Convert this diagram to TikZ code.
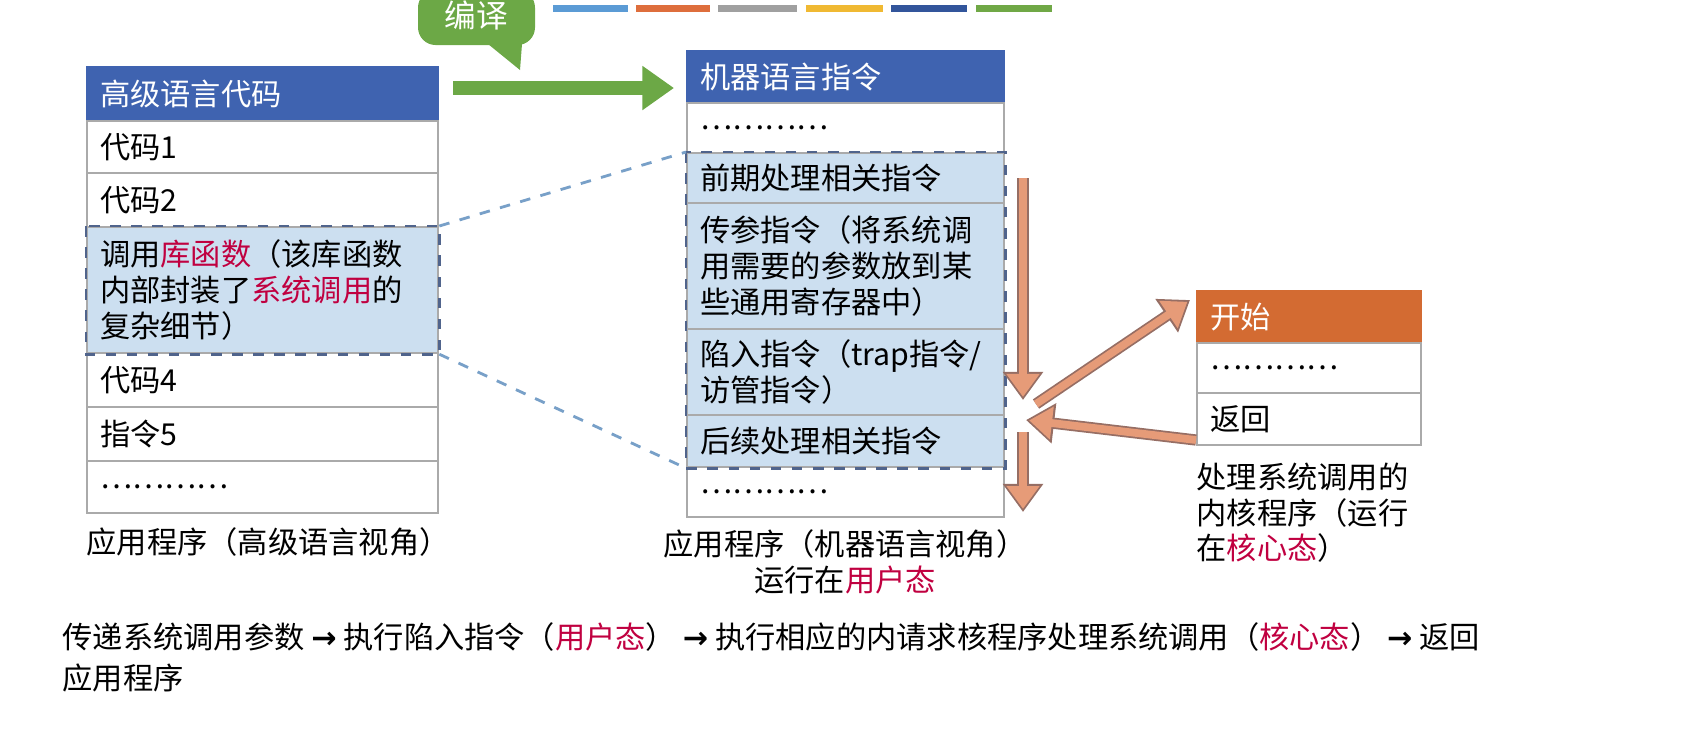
\documentclass[tikz,border=0pt]{standalone}
\usepackage{fontspec}
\setmainfont{Noto Sans CJK SC}
\newfontfamily\arrfont{DejaVu Sans}
\usetikzlibrary{arrows.meta}
\definecolor{hblue}{RGB}{63,99,176}
\definecolor{horange}{RGB}{211,107,50}
\definecolor{gline}{RGB}{170,170,170}
\definecolor{lblue}{RGB}{204,223,240}
\definecolor{dbord}{RGB}{80,100,140}
\definecolor{kred}{RGB}{192,0,64}
\definecolor{ggreen}{RGB}{108,168,70}
\definecolor{oarrow}{RGB}{230,155,120}
\definecolor{oedge}{RGB}{150,110,100}
\definecolor{dline}{RGB}{120,160,200}
\definecolor{bA}{RGB}{91,155,213}
\definecolor{bB}{RGB}{222,110,60}
\definecolor{bC}{RGB}{160,160,160}
\definecolor{bD}{RGB}{240,185,50}
\definecolor{bE}{RGB}{50,85,155}
\definecolor{bF}{RGB}{112,168,70}
\newcommand{\kr}[1]{\textcolor{kred}{#1}}
\newcommand{\ar}{{\arrfont\bfseries →}}
\begin{document}
\begin{tikzpicture}[x=0.01cm,y=-0.01cm,
  every node/.style={font=\fontsize{8.6}{10.2}\selectfont},
  cell/.style={draw=gline,line width=0.6pt,anchor=north west,inner xsep=0.13cm,inner ysep=0pt,align=left,fill=white},
  lc/.style={cell,minimum width=3.51cm,text width=3.25cm},
  mc/.style={cell,minimum width=3.17cm,text width=2.91cm},
  rc/.style={cell,minimum width=2.24cm,text width=1.98cm},
  hb/.style={fill=hblue,draw=hblue,text=white},
  grp/.style={fill=lblue},
  dashl/.style={draw=dline,dashed,line width=0.8pt},
  oarr/.style={draw=oedge,line width=3.2pt,-{Triangle[width=11pt,length=8pt]},
     postaction={draw=oarrow,line width=2.2pt,-{Triangle[width=9pt,length=6.5pt]},shorten >=0.9pt}},
  captext/.style={anchor=north west,inner sep=0pt,align=left}
]
\useasboundingbox (0,0) rectangle (1700,747);
% color bars
\foreach \a/\b/\c in {553/628/bA,636/710/bB,718/797/bC,806/883/bD,891/967/bE,976/1052/bF}
  \fill[fill=\c] (\a,5) rectangle (\b,12);
% callout
\fill[ggreen,rounded corners=5pt] (418,-10) rectangle (535,45);
\fill[ggreen] (488,44) -- (520,70) -- (522,44) -- cycle;
\node[text=white,font=\fontsize{9}{10}\selectfont] (bianyi) at (476,15) {编译};
% left table
\node[lc,hb,minimum height=0.54cm] (L0) at (86,66) {高级语言代码};
\node[lc,minimum height=0.52cm] (L1) at (86,120) {代码1};
\node[lc,minimum height=0.54cm] (L2) at (86,172) {代码2};
\node[lc,grp,minimum height=1.26cm] (L3) at (86,226) {调用\kr{库函数}（该库函数\\内部封装了\kr{系统调用}的\\复杂细节）};
\node[lc,minimum height=0.54cm] (L4) at (86,352) {代码4};
\node[lc,minimum height=0.54cm] (L5) at (86,406) {指令5};
\node[lc,minimum height=0.52cm] (L6) at (86,460) {…………};
\draw[dbord,dashed,line width=0.8pt] (L3.north west) rectangle (L3.south east);
\node[captext] (Lcap) at (86,527) {应用程序（高级语言视角）};
% middle table
\node[mc,hb,minimum height=0.52cm] (M0) at (686,50) {机器语言指令};
\node[mc,minimum height=0.50cm] (M1) at (686,102) {…………};
\node[mc,grp,minimum height=0.50cm] (M2) at (686,152) {前期处理相关指令};
\node[mc,grp,minimum height=1.26cm] (M3) at (686,202) {传参指令（将系统调\\用需要的参数放到某\\些通用寄存器中）};
\node[mc,grp,minimum height=0.86cm] (M4) at (686,328) {陷入指令（trap指令/\\访管指令）};
\node[mc,grp,minimum height=0.52cm] (M5) at (686,414) {后续处理相关指令};
\node[mc,minimum height=0.50cm] (M6) at (686,466) {…………};
\draw[dbord,dashed,line width=0.8pt] (M2.north west) rectangle (M5.south east);
\node[align=center,inner sep=0pt] (Mcap) at (845,562) {应用程序（机器语言视角）\\运行在\kr{用户态}};
% right table
\node[rc,fill=horange,draw=horange,text=white,minimum height=0.52cm] (R0) at (1196,290) {开始};
\node[rc,minimum height=0.50cm] (R1) at (1196,342) {…………};
\node[rc,minimum height=0.52cm] (R2) at (1196,392) {返回};
\node[captext] (Rcap) at (1196,462) {处理系统调用的\\内核程序（运行\\在\kr{核心态}）};
% connectors
\draw[dashl] (L3.north east) -- (M2.north west);
\draw[dashl] (L3.south east) -- (M5.south west);
\coordinate (g1) at (453,88);
\coordinate (g2) at (674,88);
\draw[ggreen,line width=4pt,-{Triangle[width=12pt,length=9pt]}] (g1) -- (g2);
\coordinate (d1) at (1023,178); \coordinate (d2) at (1023,400);
\coordinate (d3) at (1023,432); \coordinate (d4) at (1023,512);
\coordinate (e1) at (1036,404); \coordinate (e2) at (1190,300);
\coordinate (f1) at (1196,440); \coordinate (f2) at (1026,420);
\draw[oarr] (d1) -- (d2);
\draw[oarr] (d3) -- (d4);
\draw[oarr] (e1) -- (e2);
\draw[oarr] (f1) -- (f2);
% bottom text
\node[captext,font=\fontsize{8.6}{11.5}\selectfont] (bottom) at (62,622) {传递系统调用参数 \ar{} 执行陷入指令（\kr{用户态}） \ar{} 执行相应的内请求核程序处理系统调用（\kr{核心态}） \ar{} 返回\\应用程序};
\end{tikzpicture}
\end{document}
